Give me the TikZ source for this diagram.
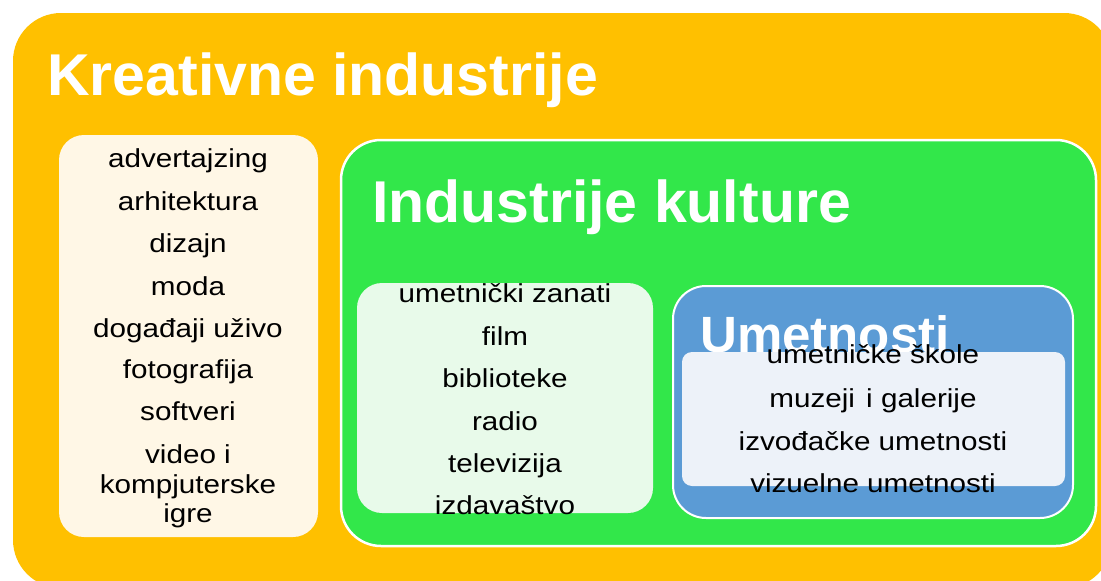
\documentclass[tikz,border=0pt]{standalone}
\usepackage{fontspec}
\setmainfont{Liberation Sans}
\newfontfamily\listfont[FakeStretch=1.14]{Liberation Sans}
\definecolor{orangebg}{RGB}{255,192,0}
\definecolor{greenbg}{RGB}{50,231,74}
\definecolor{creambg}{RGB}{255,247,230}
\definecolor{lightgreen}{RGB}{232,250,234}
\definecolor{bluebg}{RGB}{91,155,213}
\definecolor{lightblue}{RGB}{237,242,249}
\begin{document}
\begin{tikzpicture}[x=1pt,y=-1pt,
  box/.style={anchor=north west, inner sep=0pt, outer sep=0pt},
  item/.style={anchor=base, inner sep=0pt, font=\listfont\fontsize{26}{30}\selectfont, text=black},
  title/.style={anchor=base west, inner sep=0pt, text=white, font=\bfseries\fontsize{59}{70}\selectfont}]
\useasboundingbox (0,0) rectangle (1101,581);
\begin{scope}
  \clip (0,0) rectangle (1101,581);
  \node[box, fill=orangebg, rounded corners=48pt, minimum width=1099pt, minimum height=575pt] (kreativne) at (13,13) {};
\end{scope}
\node[box, fill=creambg, rounded corners=25pt, minimum width=259pt, minimum height=402pt] (cream) at (59,135) {};
\node[box, fill=greenbg, draw=white, line width=2.5pt, rounded corners=40pt, minimum width=755pt, minimum height=406pt] (kultura) at (341,140) {};
\node[box, fill=lightgreen, rounded corners=25pt, minimum width=296pt, minimum height=230pt] (lgreen) at (357,283) {};
\node[box, fill=bluebg, draw=white, line width=2pt, rounded corners=33pt, minimum width=400pt, minimum height=232pt] (umet) at (673,286) {};
\node[title] (t1) at (47,95) {Kreativne industrije};
\node[title] (t2) at (372,222) {Industrije kulture};
\node[title, font=\bfseries\fontsize{51}{60}\selectfont] (t3) at (700,352) {Umetnosti};
\node[box, fill=lightblue, rounded corners=10pt, minimum width=383pt, minimum height=134pt] (lblue) at (682,352) {};
\foreach \y/\t [count=\i] in {167/advertajzing, 210/arhitektura, 252/dizajn, 295/moda, 337/događaji uživo, 378/fotografija, 420/softveri, 463/video i, 493/kompjuterske, 522/igre}
  \node[item] (a\i) at (188,\y) {\t};
\foreach \y/\t [count=\i] in {302/umetnički zanati, 345/film, 387/biblioteke, 430/radio, 472/televizija, 514/izdavaštvo}
  \node[item] (b\i) at (505,\y) {\t};
\foreach \y/\t [count=\i] in {363/umetničke škole, 407/muzeji\hspace{3pt} i galerije, 450/izvođačke umetnosti, 492/vizuelne umetnosti}
  \node[item] (c\i) at (873,\y) {\t};
\end{tikzpicture}
\end{document}
